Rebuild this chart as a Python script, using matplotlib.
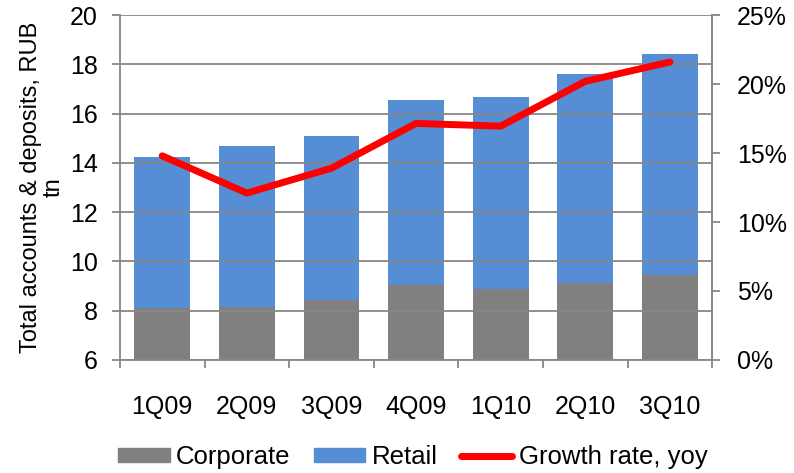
import matplotlib
matplotlib.use("Agg")
import matplotlib.pyplot as plt
import numpy as np
from matplotlib.patches import Patch
from matplotlib.lines import Line2D
from matplotlib.ticker import FuncFormatter

plt.rcParams['font.family'] = ['Liberation Sans', 'DejaVu Sans']

quarters = ["1Q09", "2Q09", "3Q09", "4Q09", "1Q10", "2Q10", "3Q10"]
total = [14.25, 14.67, 15.08, 16.54, 16.69, 17.6, 18.43]
corporate = [8.09, 8.17, 8.42, 9.05, 8.9, 9.13, 9.46]
growth = [14.8, 12.1, 13.9, 17.15, 16.95, 20.2, 21.6]

base = 6
retail = [t - c for t, c in zip(total, corporate)]
corp_h = [c - base for c in corporate]

grey = "#808080"
blue = "#558ED5"
axis_col = "#878787"

fig = plt.figure(figsize=(7.94, 4.73), dpi=100)
ax = fig.add_axes([0.151, 0.239, 0.746, 0.729])
x = np.arange(len(quarters))
ax.bar(x, corp_h, 0.66, bottom=base, color=grey, zorder=1)
ax.bar(x, retail, 0.66, bottom=corporate, color=blue, zorder=1)

ax.set_ylim(6, 20)
ax.set_xlim(-0.5, 6.5)
ax.set_yticks(np.arange(6, 21, 2))
ax.yaxis.grid(True, color=axis_col, linewidth=1.3, zorder=2)
ax.set_axisbelow(False)
ax.set_xticks(x)
ax.set_xticklabels(quarters)
ax.set_xticks(np.arange(-0.5, 7, 1), minor=True)
ax.tick_params(axis='x', which='major', length=0, pad=25, labelsize=18)
ax.tick_params(axis='x', which='minor', length=6, color=axis_col, width=1.3, direction='out')
ax.tick_params(axis='y', length=6, color=axis_col, width=1.3, labelsize=18, pad=10)
ax.spines['top'].set_visible(False)
for s in ['left', 'bottom', 'right']:
    ax.spines[s].set_color(axis_col)
    ax.spines[s].set_linewidth(1.3)
ax.set_ylabel("Total accounts & deposits, RUB\ntn", fontsize=17, labelpad=4, linespacing=1.0)

ax2 = ax.twinx()
ax2.plot(x, np.array(growth) / 100, color="#FF0000", linewidth=5, solid_capstyle='round', zorder=3)
ax2.set_ylim(0, 0.25)
ax2.set_yticks(np.arange(0, 0.26, 0.05))
ax2.yaxis.set_major_formatter(FuncFormatter(lambda v, p: f"{v*100:.0f}%"))
ax2.tick_params(axis='y', length=6, color=axis_col, width=1.3, labelsize=18, pad=12)
for s in ['top', 'left', 'bottom']:
    ax2.spines[s].set_visible(False)
ax2.spines['right'].set_color(axis_col)
ax2.spines['right'].set_linewidth(1.3)

handles = [Patch(color=grey, label="Corporate"),
           Patch(color=blue, label="Retail"),
           Line2D([], [], color="#FF0000", linewidth=5, solid_capstyle='round', label="Growth rate, yoy")]
fig.legend(handles=handles, loc='lower center', bbox_to_anchor=(0.52, -0.04), ncol=3, frameon=False,
           fontsize=18.5, handlelength=2.0, handleheight=0.45, columnspacing=0.9, handletextpad=0.25)

fig.savefig("out.png", dpi=100)
